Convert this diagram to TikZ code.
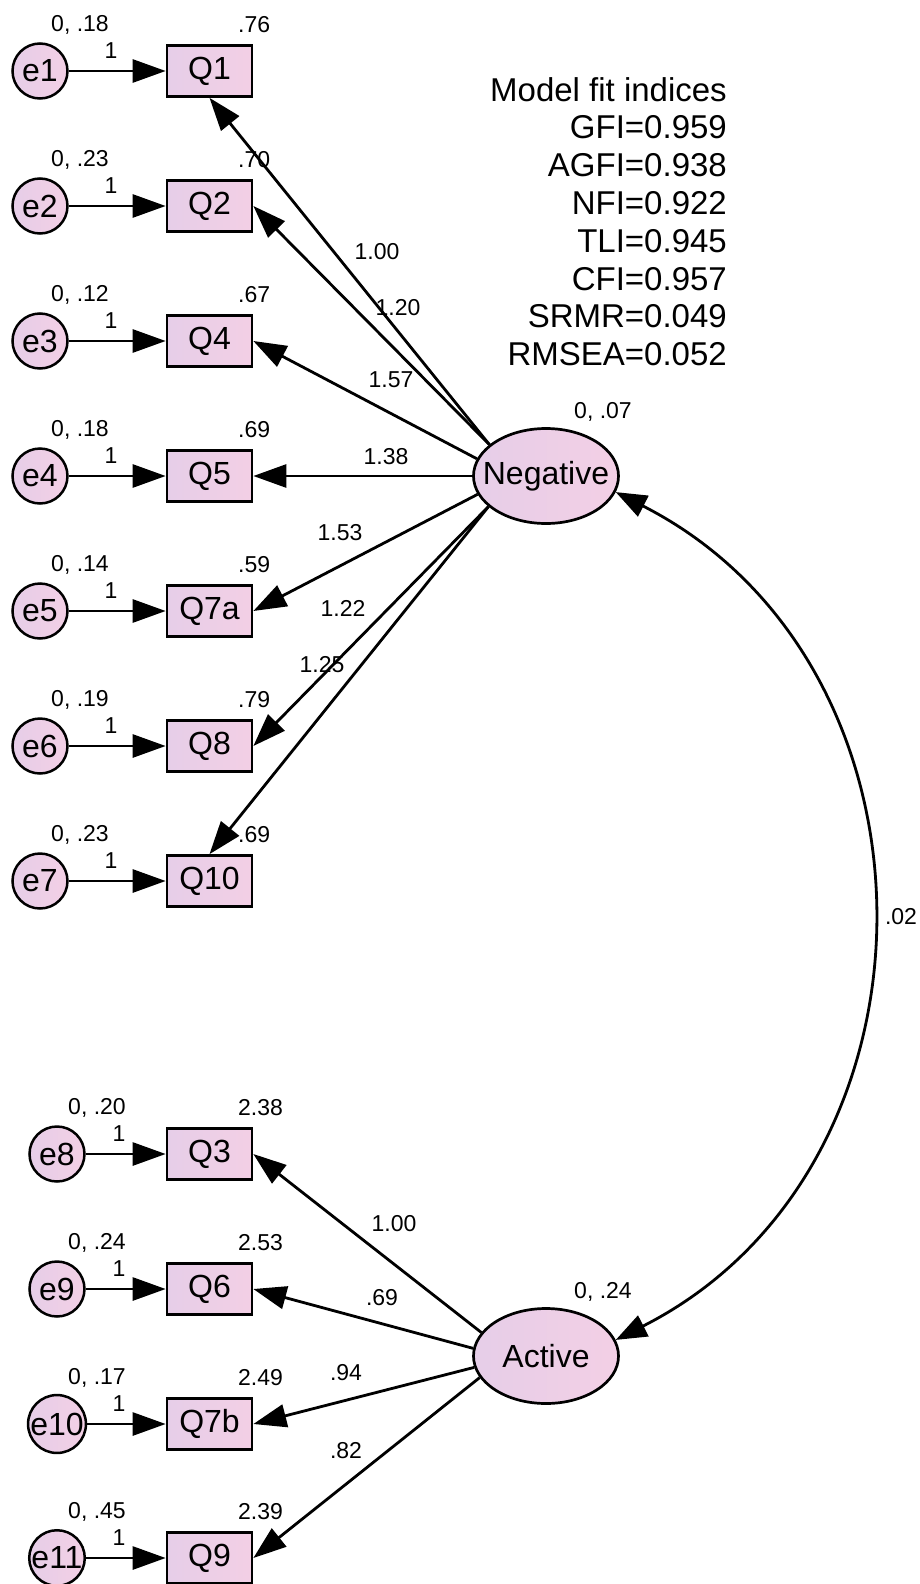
\documentclass[tikz,border=0pt]{standalone}
\usepackage{fontspec}
\setmainfont{Liberation Sans}
\usetikzlibrary{arrows.meta,shapes.geometric}
\definecolor{lav}{RGB}{230,206,232}
\definecolor{pnk}{RGB}{243,207,229}
\begin{document}
\begin{tikzpicture}[x=1pt,y=-1pt,
  obs/.style={draw, line width=2.7pt, rectangle, minimum width=85pt, minimum height=51pt, inner sep=0pt, left color=lav, right color=pnk, font=\fontsize{32}{36}\selectfont},
  err/.style={draw, circle, line width=2.5pt, minimum size=55pt, inner sep=0pt, left color=lav, right color=pnk, font=\fontsize{32}{36}\selectfont},
  lat/.style={draw, ellipse, line width=2.7pt, minimum width=145pt, minimum height=95pt, inner sep=0pt, left color=lav, right color=pnk, font=\fontsize{32}{36}\selectfont},
  lbl/.style={font=\fontsize{23}{26}\selectfont, inner sep=0pt},
  arr/.style={line width=2.8pt, -{Triangle[length=33pt,width=23pt]}},
  darr/.style={line width=2.8pt, {Triangle[length=31pt,width=23pt]}-{Triangle[length=31pt,width=23pt]}},
]
\path[use as bounding box, fill=white] (0,0) rectangle (919,1584);

% latent variables
\node[lat] (Neg) at (546,476) {\makebox[0pt]{Negative}};
\node[lat] (Act) at (546,1356) {\makebox[0pt]{Active}};
\node[lbl] (negv) at (603,412) {0, .07};
\node[lbl] (actv) at (603,1292) {0, .24};

% indicators, top block
\foreach \e/\q/\qt/\y/\v/\ev in {e1/q1/Q1/71/.76/{0, .18}, e2/q2/Q2/206/.70/{0, .23}, e3/q4/Q4/341/.67/{0, .12}, e4/q5/Q5/476/.69/{0, .18}, e5/q7a/Q7a/611/.59/{0, .14}, e6/q8/Q8/746/.79/{0, .19}, e7/q10/Q10/881/.69/{0, .23}}{
  \node[obs] (\q) at (209.5,\y) {\qt};
  \node[err] (\e) at (40,\y) {\e};
  \node[lbl] (\e v) at (80,\y-46) {\ev};
  \node[lbl] (\e w) at (111,\y-20) {1};
  \node[lbl, anchor=west] (\q v) at (238,\y-46) {\v};
  \draw[arr] (\e) -- (\q);
}
% indicators, bottom block
\foreach \e/\q/\qt/\y/\v/\ev in {e8/q3/Q3/1154/2.38/{0, .20}, e9/q6/Q6/1289/2.53/{0, .24}, e10/q7b/Q7b/1424/2.49/{0, .17}, e11/q9/Q9/1558/2.39/{0, .45}}{
  \node[obs] (\q) at (209.5,\y) {\qt};
  \node[err] (\e) at (57,\y) {\e};
  \node[lbl] (\e v) at (97,\y-46) {\ev};
  \node[lbl] (\e w) at (119,\y-20) {1};
  \node[lbl, anchor=west] (\q v) at (238,\y-46) {\v};
  \draw[arr] (\e) -- (\q);
}

% loadings Negative
\draw[arr] (Neg.151) -- (q1.south);
\draw[arr] (Neg.151) -- (q2.east);
\draw[arr] (Neg.166) -- (q4.east);
\draw[arr] (Neg.180) -- (q5.east);
\draw[arr] (Neg.195) -- (q7a.east);
\draw[arr] (Neg.208) -- (q8.east);
\draw[arr] (Neg.208) -- (q10.north);
\node[lbl] (l1) at (377,252) {1.00};
\node[lbl] (l2) at (398,308) {1.20};
\node[lbl] (l4) at (391,380) {1.57};
\node[lbl] (l5) at (386,457) {1.38};
\node[lbl] (l7a) at (340,533) {1.53};
\node[lbl] (l8) at (343,608) {1.22};
\node[lbl] (l10) at (322,665) {1.25};

% loadings Active
\draw[arr] (Act.160) -- (q3.east);
\draw[arr] (Act.174) -- (q6.east);
\draw[arr] (Act.189) -- (q7b.east);
\draw[arr] (Act.198) -- (q9.east);
\node[lbl] (l3) at (394,1224) {1.00};
\node[lbl] (l6) at (382,1298) {.69};
\node[lbl] (l7b) at (346,1373) {.94};
\node[lbl] (l9) at (346,1451) {.82};

% covariance
\draw[darr] (Neg.-13) .. controls (955,665) and (955,1168) .. (Act.13);
\node[lbl] (cov) at (901,917) {.02};

% fit indices
\node[anchor=north east, align=right, inner sep=0pt, font=\fontsize{33}{37.8}\selectfont] (fitidx) at (727,77)
  {Model fit indices\\GFI=0.959\\AGFI=0.938\\NFI=0.922\\TLI=0.945\\CFI=0.957\\SRMR=0.049\\RMSEA=0.052};
\end{tikzpicture}
\end{document}
